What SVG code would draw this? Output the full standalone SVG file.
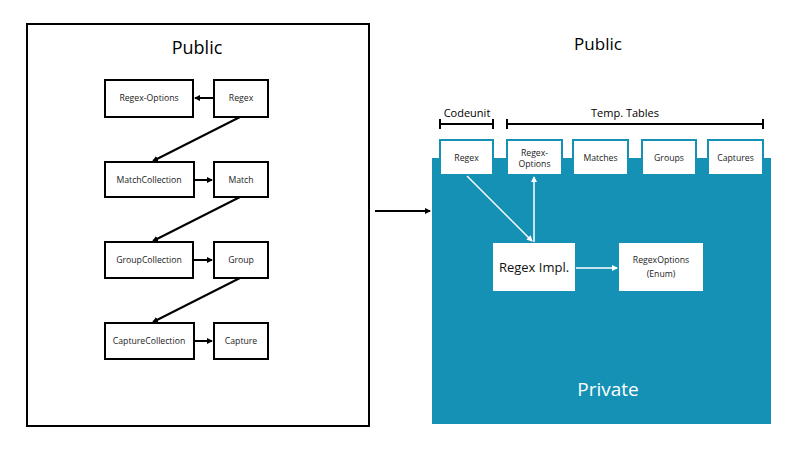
<svg xmlns="http://www.w3.org/2000/svg" width="800" height="450" viewBox="0 0 800 450">
<defs>
<marker id="ah" markerWidth="6" markerHeight="6" refX="5" refY="3" orient="auto" markerUnits="userSpaceOnUse"><path d="M0,0 L6,3 L0,6 z" fill="#000"/></marker>
<marker id="ahw" markerWidth="6" markerHeight="6" refX="5" refY="3" orient="auto" markerUnits="userSpaceOnUse"><path d="M0,0 L6,3 L0,6 z" fill="#fff"/></marker>
<style>
text{font-family:"Open Sans","Noto Sans","Liberation Sans",sans-serif;text-anchor:middle}
.b{fill:#fff;stroke:#000;stroke-width:2}
.s{font-size:8.7px;fill:#222}
.t{fill:#fff;stroke:#1591b5;stroke-width:2}
.c{stroke:#000;stroke-width:2;fill:none;marker-end:url(#ah)}
.w{stroke:#fff;stroke-width:1.5;fill:none;marker-end:url(#ahw)}
.br{stroke:#000;stroke-width:2;fill:none}
</style>
</defs>
<rect width="800" height="450" fill="#fff"/>
<g id="public-left">
<rect x="27" y="24" width="342" height="402" fill="#fff" stroke="#000" stroke-width="2"/>
<text x="197" y="54" font-size="18">Public</text>
</g>
<g id="regex-options"><rect class="b" x="105" y="80" width="88" height="37"/><text class="s" x="149" y="101">Regex-Options</text></g>
<g id="regex"><rect class="b" x="214" y="80" width="54" height="37"/><text class="s" x="241" y="101">Regex</text></g>
<g id="matchcollection"><rect class="b" x="105" y="162" width="89" height="35"/><text class="s" x="149" y="183">MatchCollection</text></g>
<g id="match"><rect class="b" x="214" y="162" width="54" height="35"/><text class="s" x="241" y="183">Match</text></g>
<g id="groupcollection"><rect class="b" x="105" y="242" width="88" height="36"/><text class="s" x="149" y="263">GroupCollection</text></g>
<g id="group"><rect class="b" x="214" y="242" width="54" height="36"/><text class="s" x="241" y="263">Group</text></g>
<g id="capturecollection"><rect class="b" x="105" y="323" width="89" height="36"/><text class="s" x="149" y="344">CaptureCollection</text></g>
<g id="capture"><rect class="b" x="214" y="323" width="54" height="36"/><text class="s" x="241" y="344">Capture</text></g>

<g id="private">
<rect x="432" y="158" width="339" height="266" fill="#1591b5"/>
<text x="608" y="396" font-size="19" fill="#fff">Private</text>
</g>
<g id="public-right"><text x="598" y="50" font-size="17">Public</text></g>
<g id="codeunit"><text x="467" y="117" font-size="11">Codeunit</text></g>
<g id="temp-tables"><text x="625" y="117" font-size="11">Temp. Tables</text></g>
<g id="tab-regex"><rect class="t" x="440" y="140" width="53" height="35"/><text class="s" x="466.5" y="161">Regex</text></g>
<g id="tab-regex-options"><rect class="t" x="507" y="140" width="55" height="35"/><text class="s" x="534.5" y="156">Regex-</text><text class="s" x="534.5" y="167">Options</text></g>
<g id="tab-matches"><rect class="t" x="573" y="140" width="55" height="35"/><text class="s" x="600.5" y="161">Matches</text></g>
<g id="tab-groups"><rect class="t" x="642" y="140" width="54" height="35"/><text class="s" x="669" y="161">Groups</text></g>
<g id="tab-captures"><rect class="t" x="708" y="140" width="55" height="35"/><text class="s" x="735.5" y="161">Captures</text></g>
<g id="regex-impl"><rect x="493" y="243" width="82" height="48" fill="#fff"/><text x="534" y="272" font-size="13" fill="#111">Regex Impl.</text></g>
<g id="regexoptions-enum"><rect x="619" y="243" width="84" height="48" fill="#fff"/><text class="s" x="661" y="263">RegexOptions</text><text class="s" x="661" y="277">(Enum)</text></g>

<g id="connectors">
<line class="c" x1="214" y1="98" x2="195" y2="98"/>
<line class="c" x1="194" y1="180" x2="212" y2="180"/>
<line class="c" x1="194" y1="260" x2="212" y2="260"/>
<line class="c" x1="194" y1="341" x2="212" y2="341"/>
<line class="c" x1="240" y1="117" x2="153" y2="161"/>
<line class="c" x1="240" y1="197" x2="153" y2="241"/>
<line class="c" x1="240" y1="278" x2="153" y2="322"/>
<line class="c" x1="375" y1="211" x2="430" y2="211"/>
<path class="br" d="M440,124 H493 M440,119 V129 M493,119 V129"/>
<path class="br" d="M507,124 H763 M507,119 V129 M763,119 V129"/>
<line class="w" x1="467" y1="176" x2="532" y2="241"/>
<line class="w" x1="534" y1="242" x2="534" y2="177"/>
<line class="w" x1="576" y1="268" x2="617" y2="268"/>
</g>
</svg>
